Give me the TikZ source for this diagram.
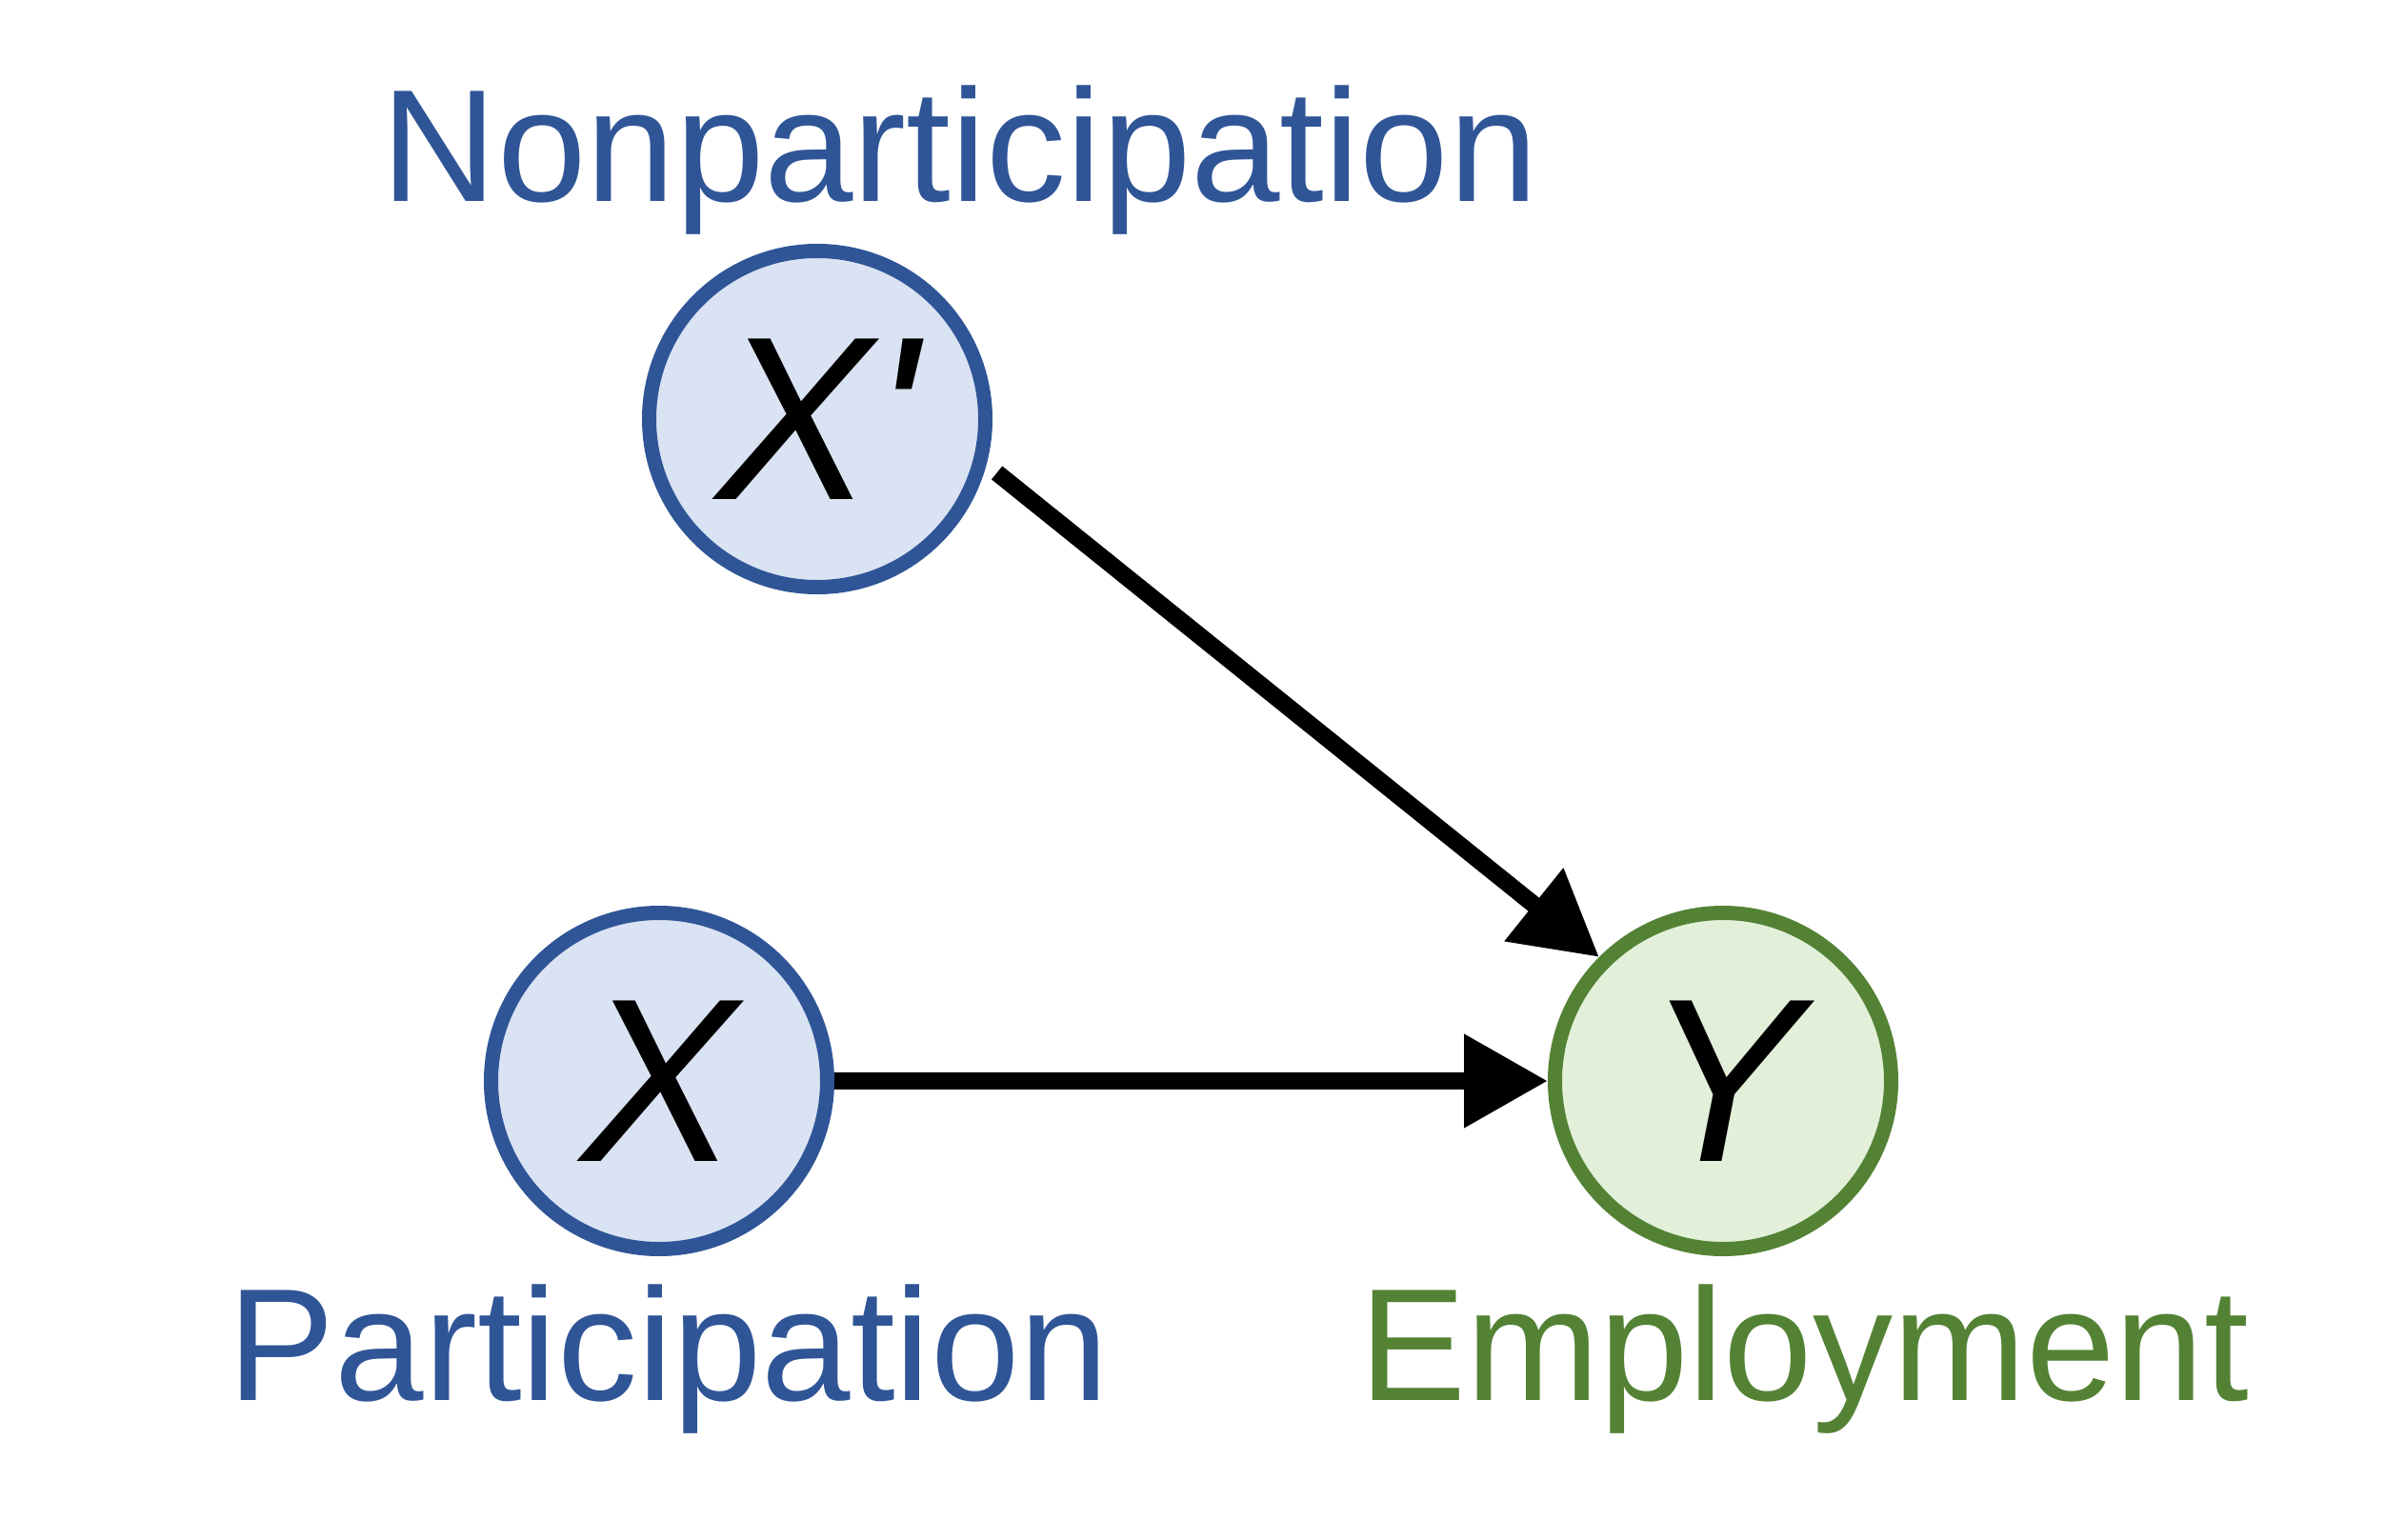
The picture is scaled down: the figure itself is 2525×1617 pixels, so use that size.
\documentclass[tikz,border=0pt]{standalone}
\usepackage{fontspec}
\setmainfont{Liberation Sans}
\usetikzlibrary{arrows.meta}
\definecolor{bblue}{HTML}{2F5597}
\definecolor{fblue}{HTML}{DAE3F3}
\definecolor{bgreen}{HTML}{548235}
\definecolor{fgreen}{HTML}{E2F0D9}
\begin{document}
\begin{tikzpicture}[x=1pt,y=-1pt,
  varnode/.style={circle,inner sep=0pt,minimum size=353pt,line width=15pt,
    font=\fontsize{245}{250}\selectfont\itshape},
  bluenode/.style={varnode,draw=bblue,fill=fblue},
  greennode/.style={varnode,draw=bgreen,fill=fgreen},
  lbl/.style={anchor=base,inner sep=0pt,font=\fontsize{168}{180}\selectfont},
  arr/.style={line width=18pt,-{Triangle[length=88pt,width=94pt]}}]
\useasboundingbox (0,0) rectangle (2525,1617);
\node[bluenode] (Xp) at (858,440) {X\textquotesingle};
\node[bluenode] (X) at (692,1135) {X};
\node[greennode] (Y) at (1809,1135) {Y};
\node[lbl,text=bblue] (lnon) at (1008,211) {Nonparticipation};
\node[lbl,text=bblue] (lpar) at (702,1470) {Participation};
\node[lbl,text=bgreen] (lemp) at (1894,1470) {Employment};
\draw[arr,shorten <=14pt] (Xp.-15) -- (Y.135);
\draw[arr] (X.east) -- (Y.west);
\end{tikzpicture}
\end{document}
